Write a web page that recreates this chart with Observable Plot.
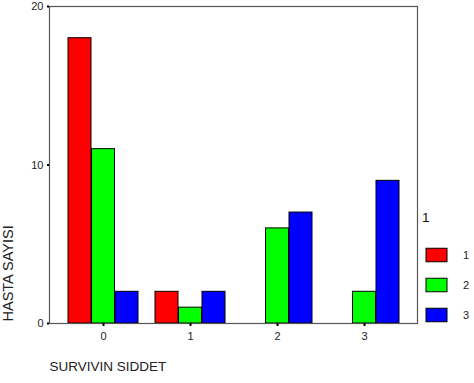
<!DOCTYPE html>
<html>
<head>
<meta charset="utf-8">
<script src="https://cdn.jsdelivr.net/npm/d3@7"></script>
<script src="https://cdn.jsdelivr.net/npm/@observablehq/plot@0.6"></script>
<style>
  html, body { margin: 0; padding: 0; background: #fff; }
  #wrap { position: relative; width: 474px; height: 383px; font-family: "Liberation Sans", Arial, sans-serif; }
  #legend-title { position: absolute; left: 422px; top: 210px; font-size: 13.5px; color: #111; }
  #legend { position: absolute; left: 420px; top: 239px; }
</style>
</head>
<body>
<div id="wrap">
  <div id="chart"></div>
  <div id="legend-title">1</div>
  <div id="legend"></div>
</div>
<script>
const categories = ["0", "1", "2", "3"];
const series = ["1", "2", "3"];
const series1 = [18, 2, 0, 0];
const series2 = [11, 1, 6, 2];
const series3 = [2, 2, 7, 9];
const colors = ["#ff0000", "#00ff00", "#0000ff"];
const yTicks = [0, 10, 20];
const xLabel = "SURVIVIN SIDDET";
const yLabel = "HASTA SAYISI";
const legendTitle = "1";

const allValues = [series1, series2, series3];
const rows = [];
series.forEach((s, si) => categories.forEach((c, ci) => rows.push({cat: c, series: s, value: allValues[si][ci]})));

const barW = 23.5;
const offsets = [-barW, 0, barW];

const chart = Plot.plot({
  width: 474,
  height: 383,
  marginLeft: 49,
  marginRight: 57,
  marginTop: 6,
  marginBottom: 60,
  style: {fontFamily: "'Liberation Sans', Arial, sans-serif", background: "#fff"},
  x: {domain: categories, paddingInner: 0.19, paddingOuter: 0.205, align: 0.52, label: null},
  y: {domain: [0, 20], label: null},
  color: {domain: series, range: colors},
  marks: [
    ...series.map((s, i) => Plot.barY(rows.filter(d => d.series === s), {
      x: "cat", y: "value", fill: "series", stroke: "#000", strokeWidth: 1,
      insetLeft: barW, insetRight: barW, dx: offsets[i]
    })),
    Plot.frame({stroke: "#555", strokeWidth: 1.2}),
    Plot.axisY({ticks: yTicks, tickSize: 2, strokeWidth: 2, stroke: "#000", tickPadding: 4, fontSize: 11, color: "#222", label: null}),
    Plot.axisX({tickSize: 3, strokeWidth: 2, stroke: "#000", tickPadding: 6, fontSize: 11, color: "#222", label: null}),
    Plot.text([xLabel], {frameAnchor: "bottom-left", dy: 47, textAnchor: "start", fontSize: 13.5, fill: "#222"}),
    Plot.text([yLabel], {frameAnchor: "bottom-left", rotate: -90, textAnchor: "start", dx: -37, dy: -2, fontSize: 14.5, fill: "#222"})
  ]
});
document.getElementById("chart").appendChild(chart);
document.getElementById("legend-title").textContent = legendTitle;

const legend = Plot.plot({
  width: 54,
  height: 91.5,
  marginLeft: 6,
  marginRight: 27,
  marginTop: 0,
  marginBottom: 0,
  style: {fontFamily: "'Liberation Sans', Arial, sans-serif", background: "transparent"},
  x: {domain: ["s"], axis: null, padding: 0},
  y: {domain: series, axis: null, padding: 0},
  color: {domain: series, range: colors},
  marks: [
    Plot.cell(series, {x: () => "s", y: d => d, fill: d => d, stroke: "#000", strokeWidth: 1, insetTop: 8.25, insetBottom: 8.25}),
    Plot.text(series, {x: () => "s", y: d => d, text: d => d, dx: 26, textAnchor: "start", fontSize: 11, fill: "#222"})
  ]
});
document.getElementById("legend").appendChild(legend);
</script>
</body>
</html>
